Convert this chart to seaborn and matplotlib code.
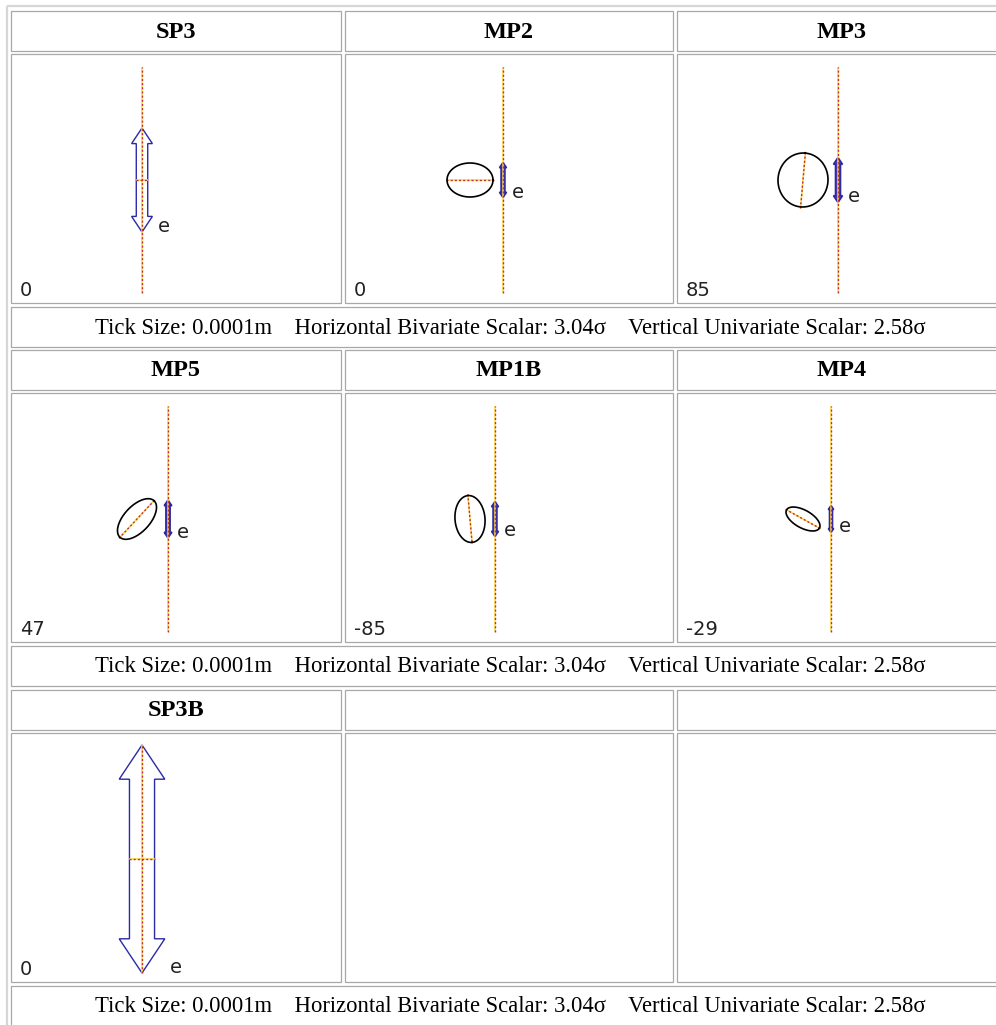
import numpy as np
import pandas as pd
import seaborn as sns
import matplotlib.pyplot as plt
from matplotlib.patches import Rectangle

sns.set_theme(style="white")
plt.rcParams['font.family'] = ['DejaVu Sans']

# station data (drawing units = screen px of the original diagram)
stations = ["SP3", "MP2", "MP3", "MP5", "MP1B", "MP4", "SP3B"]
azimuth = [0, 0, 85, 47, -85, -29, 0]
vert_half = [52, 17.5, 22.5, 19, 17.5, 13.5, 114]
ell_major = [0, 23, 27, 25, 23.5, 18.8, 0]
ell_minor = [0, 17, 25, 13, 15, 8.9, 0]
ell_shift = [0, -33, -35, -31, -25, -28, 0]
tick_size = "0.0001m"
horiz_scalar = 3.04
vert_scalar = 2.58

# page layout (pixels)
W, H = 996, 1025
col_x = [(11, 341), (345, 673), (677, 1006)]
block_top = [11, 350, 690]
station_x = [131, 158, 161, 157, 150, 154, 131]
plot_h, station_y, line_half = 249, 126, 113

RED, YEL, BLUE, GRID = '#b8333f', '#ffd940', '#2a2aa6', '#a8a8a8'
caption = (f"Tick Size: {tick_size}    Horizontal Bivariate Scalar: {horiz_scalar:.2f}\u03c3"
           f"    Vertical Univariate Scalar: {vert_scalar:.2f}\u03c3")


def dotted(ax, xs, ys):
    ax.plot(xs, ys, color=YEL, lw=1.1, zorder=4, solid_capstyle='butt')
    ax.plot(xs, ys, color=RED, lw=1.0, dashes=(1.5, 1.5), zorder=5)


fig = plt.figure(figsize=(W / 100, H / 100), dpi=100)
bg = fig.add_axes([0, 0, 1, 1])
bg.set_xlim(0, W)
bg.set_ylim(H, 0)
bg.axis('off')
bg.add_patch(Rectangle((7, 6), 1010, 1030, fill=False, ec='#d6d6d6', lw=1.6))

for r, top in enumerate(block_top):
    for c, (x0, x1) in enumerate(col_x):
        bg.add_patch(Rectangle((x0, top), x1 - x0, 40, fill=False, ec=GRID, lw=0.9))
        bg.add_patch(Rectangle((x0, top + 43), x1 - x0, plot_h, fill=False, ec=GRID, lw=0.9))
        i = r * 3 + c
        if i < len(stations):
            bg.text((x0 + x1) / 2, top + 21, stations[i], ha='center', va='center',
                    family='Liberation Serif', weight='bold', fontsize=17.5, color='black')
    cap_top = top + 43 + plot_h + 4
    bg.add_patch(Rectangle((11, cap_top), 995, 40, fill=False, ec=GRID, lw=0.9))
    bg.text(510, cap_top + 21, caption, ha='center', va='center',
            family='Liberation Serif', fontsize=16.3, color='black')

for i, name in enumerate(stations):
    r, c = divmod(i, 3)
    x0, x1 = col_x[c]
    ptop = block_top[r] + 43
    ax = fig.add_axes([x0 / W, 1 - (ptop + plot_h) / H, (x1 - x0) / W, plot_h / H])
    sx = station_x[i]
    ax.set_xlim(-sx, (x1 - x0) - sx)
    ax.set_ylim(-(plot_h - station_y), station_y)
    ax.axis('off')

    # vertical error arrow
    v = vert_half[i]
    L = 2 * v
    sw, hw, hl = 0.055 * L, 0.1 * L, 0.15 * L
    ax_x = [0, hw, sw, sw, hw, 0, -hw, -sw, -sw, -hw, 0]
    ax_y = [v, v - hl, v - hl, -v + hl, -v + hl, -v, -v + hl, -v + hl, v - hl, v - hl, v]
    small = L < 60
    ax.fill(ax_x, ax_y, facecolor='#5a3fb8' if small else 'white',
            edgecolor=BLUE, lw=1.2 if small else 1.0, zorder=3)

    # station line
    dotted(ax, [0, 0], [-max(line_half, v), max(line_half, v)])

    # horizontal error ellipse
    a, b = ell_major[i], ell_minor[i]
    th = np.deg2rad(azimuth[i])
    if a > 0:
        t = np.linspace(0, 2 * np.pi, 240)
        ex = a * np.cos(t) * np.cos(th) - b * np.sin(t) * np.sin(th) + ell_shift[i]
        ey = a * np.cos(t) * np.sin(th) + b * np.sin(t) * np.cos(th)
        df = pd.DataFrame({'x': ex, 'y': ey})
        sns.lineplot(data=df, x='x', y='y', sort=False, estimator=None,
                     color='black', lw=1.2, ax=ax, zorder=6)
        k = 1.06 * a
        dotted(ax, [ell_shift[i] - k * np.cos(th), ell_shift[i] + k * np.cos(th)],
               [-k * np.sin(th), k * np.sin(th)])
    else:
        dotted(ax, [-sw, sw], [0, 0])

    ax.set_xlabel('')
    ax.set_ylabel('')
    ax.text(hw + 5, -v, 'e', fontsize=14, va='baseline', ha='left', color='#222222')
    ax.text(-sx + 9, -(plot_h - station_y) + 7, str(azimuth[i]), fontsize=14,
            va='baseline', ha='left', color='#222222')

fig.savefig('out.png', dpi=100)
